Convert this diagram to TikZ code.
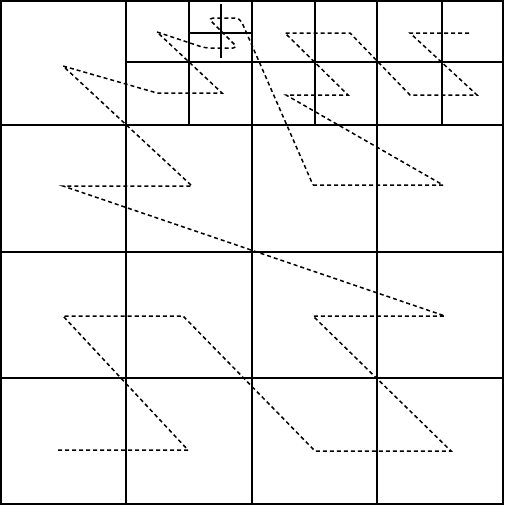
\documentclass[tikz,border=0pt]{standalone}
\usetikzlibrary{positioning}

\begin{document}
\begin{tikzpicture}[
    x=1pt, y=-1pt,
    cellline/.style={draw=black, line width=2pt},
    zcurve/.style={draw=black, line width=1.5pt, dash pattern=on 4pt off 3pt},
    finecurve/.style={zcurve, rounded corners=5pt}
]
\useasboundingbox (0,0) rectangle (506,506);

% Coarse grid
\draw [cellline] (1,1) rectangle (503,504);
\draw [cellline] (126,1) -- (126,504);
\draw [cellline] (252,1) -- (252,504);
\draw [cellline] (377,1) -- (377,504);
\draw [cellline] (1,125) -- (503,125);
\draw [cellline] (1,252) -- (503,252);
\draw [cellline] (1,378) -- (503,378);

% Finer grid (top row)
\draw [cellline] (126,62) -- (503,62);
\draw [cellline] (189,1) -- (189,125);
\draw [cellline] (315,1) -- (315,125);
\draw [cellline] (442,1) -- (442,125);

% Finest grid
\draw [cellline] (189,33) -- (252,33);
\draw [cellline] (221,4) -- (221,58);

% Z-order curve
\draw [zcurve] (58,450) -- (188,450) -- (63,316) -- (183,316)
    -- (315,451) -- (451,451) -- (313,316) -- (445,316)
    -- (63,186) -- (192,186) -- (63,66) -- (157,93) -- (222,93) -- (157,32);
\draw [finecurve] (157,32) -- (205,48) -- (238,48) -- (208,18) -- (240,18) -- (313,185);
\draw [zcurve] (313,185) -- (443,185) -- (286,95) -- (348,95) -- (285,33) -- (350,33)
    -- (410,95) -- (477,95) -- (410,33) -- (472,33);

\end{tikzpicture}
\end{document}
